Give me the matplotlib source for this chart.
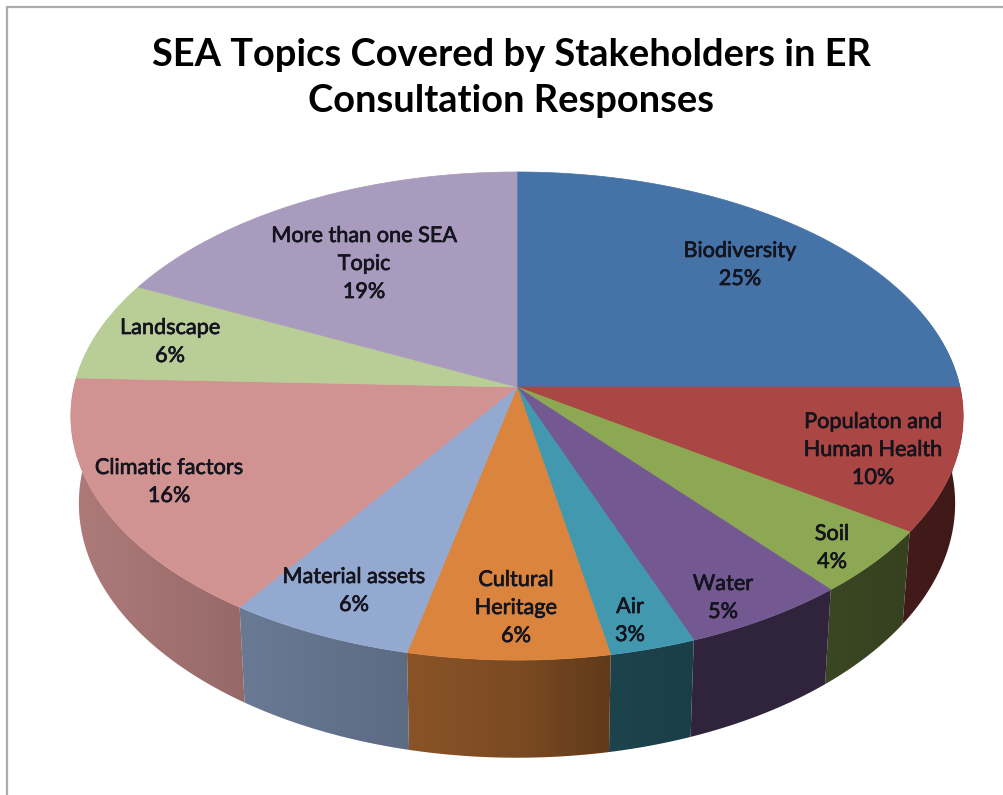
import numpy as np
import matplotlib
matplotlib.use("Agg")
import matplotlib.pyplot as plt
import matplotlib.patheffects as pe
from matplotlib.patches import Polygon
from matplotlib.colors import to_rgb

# ---- data (clockwise from 12 o'clock) ----
topics = ["Biodiversity", "Populaton and\nHuman Health", "Soil", "Water", "Air",
          "Cultural\nHeritage", "Material assets", "Climatic factors",
          "Landscape", "More than one SEA\nTopic"]
shares = [25.0, 9.5, 4.37, 5.36, 2.78, 6.51, 6.03, 16.05, 6.6, 17.8]
percent_labels = ["25%", "10%", "4%", "5%", "3%", "6%", "6%", "16%", "6%", "19%"]
title_text = "SEA Topics Covered by Stakeholders in ER\nConsultation Responses"

# ---- style ----
colors = ["#4573A7", "#AA4643", "#8CA852", "#735892", "#4198AF", "#DB843D",
          "#93A9CF", "#D19392", "#B9CD96", "#A99BBD"]
label_xy = [(740, 265), (873, 450), (832, 548), (723, 598), (630, 621), (516, 608),
            (354, 591), (169, 482), (170, 342), (364, 264)]
CX, CY, A, B, K, DEPTH, SHRINK = 517, 387, 443, 240.6, 0.119, 86, 0.982
shade_x = [60, 240, 410, 520, 610, 700, 830, 970]
shade_f = [0.84, 0.72, 0.63, 0.56, 0.44, 0.41, 0.42, 0.36]


def project(theta, r=1.0, below=False):
    """Perspective map of a disc point; theta clockwise from the top."""
    u, v = r * np.sin(theta), r * np.cos(theta)
    w = 1 + K * v
    x = A * u / w
    y = -B * v / w
    if below:
        return CX + SHRINK * x, CY + y + DEPTH / w
    return CX + x, CY + y


fig = plt.figure(figsize=(10.04, 7.95), dpi=100, facecolor="white")
ax = fig.add_axes([0, 0, 1, 1])
ax.axis("off")

# frame of the chart area
ax.plot([7, 7, 1004], [795, 7, 7], color="#ABABAB", lw=1.6, solid_joinstyle="miter", zorder=1)

edges = 2 * np.pi * np.cumsum([0] + shares) / sum(shares)

# outer walls: a horizontal shading ramp clipped to each wall outline
ramp_x = np.arange(40, 1000, 2.0)
ramp_f = np.interp(ramp_x, shade_x, shade_f)
for i, c in enumerate(colors):
    t = np.linspace(edges[i], edges[i + 1], 100)
    t = t[np.cos(t) < 0.3]
    if len(t) < 2:
        continue
    xt, yt = project(t)
    xb, yb = project(t[::-1], below=True)
    outline = Polygon(np.c_[np.r_[xt, xb], np.r_[yt, yb]], closed=True,
                      transform=ax.transData, fc="none", ec="none")
    ax.add_patch(outline)
    ramp = ramp_f[None, :, None] * np.array(to_rgb(c))[None, None, :]
    im = ax.imshow(ramp, extent=(39, 999, 795, 0), aspect="auto",
                   interpolation="bilinear", zorder=2)
    im.set_clip_path(outline)

ax.set_xlim(0, 1004)
ax.set_ylim(795, 0)

# top faces
for i, c in enumerate(colors):
    t = np.linspace(edges[i], edges[i + 1], 120)
    x, y = project(t)
    ax.fill(np.r_[CX, x], np.r_[CY, y], fc=c, ec=c, lw=0.5, zorder=3)

# texts
halo = [pe.withStroke(linewidth=0.5, foreground="#14141E")]
for name, pct, (lx, ly) in zip(topics, percent_labels, label_xy):
    ax.text(lx, ly, f"{name}\n{pct}", ha="center", va="center", family="Lato",
            fontsize=15.6, color="#14141E", linespacing=1.5, zorder=4, path_effects=halo)
ax.text(511, 78, title_text, ha="center", va="center", family="Lato", weight="bold",
        fontsize=27.4, color="black", linespacing=1.42, zorder=4)

fig.savefig("out.png", dpi=100, facecolor="white")
